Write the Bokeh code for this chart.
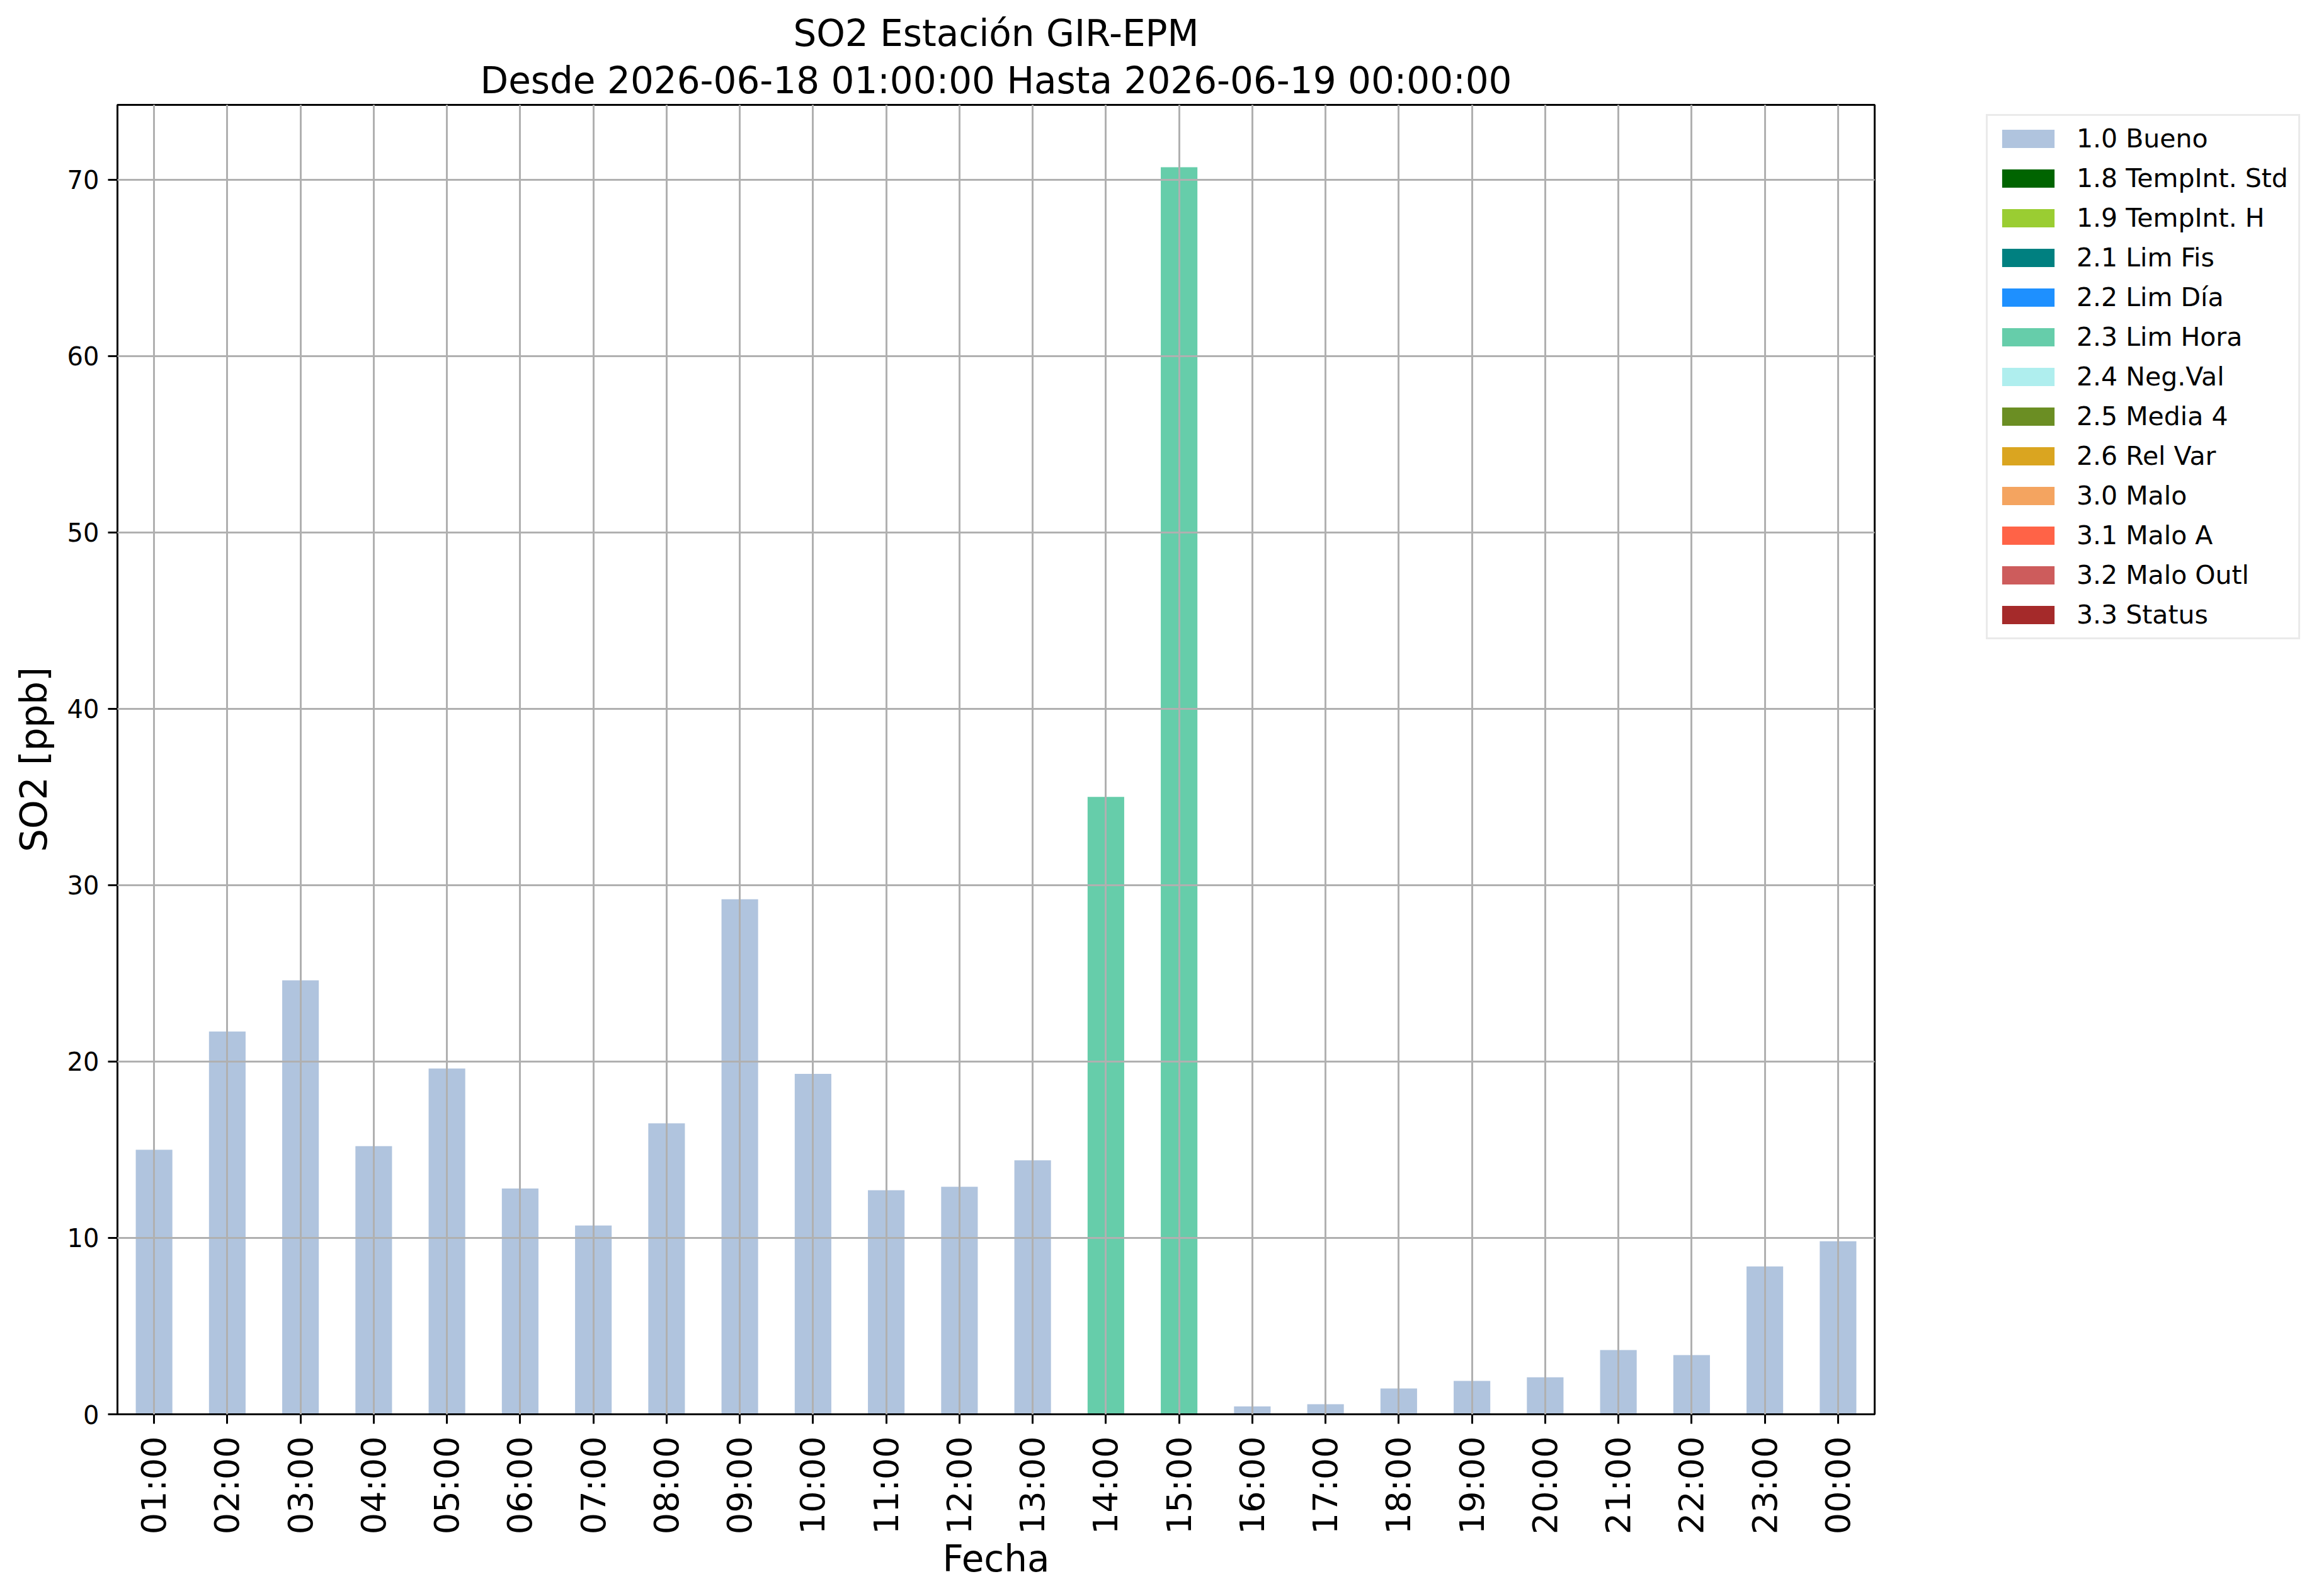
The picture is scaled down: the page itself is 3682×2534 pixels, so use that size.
import math
from bokeh.plotting import figure
from bokeh.models import (ColumnDataSource, FactorRange, Range1d, Title, Legend,
                          LegendItem, SingleIntervalTicker)
from bokeh.embed import file_html
from bokeh.resources import INLINE

# ---------------- data ----------------
hours = ["01:00", "02:00", "03:00", "04:00", "05:00", "06:00", "07:00", "08:00",
         "09:00", "10:00", "11:00", "12:00", "13:00", "14:00", "15:00", "16:00",
         "17:00", "18:00", "19:00", "20:00", "21:00", "22:00", "23:00", "00:00"]
so2_ppb = [15.0, 21.7, 24.6, 15.2, 19.6, 12.8, 10.7, 16.5,
           29.2, 19.3, 12.7, 12.9, 14.4, 35.0, 70.7, 0.45,
           0.57, 1.46, 1.89, 2.10, 3.64, 3.36, 8.38, 9.81]
flag_codes = ["1.0"] * 13 + ["2.3", "2.3"] + ["1.0"] * 9

category_codes = ["1.0", "1.8", "1.9", "2.1", "2.2", "2.3", "2.4", "2.5", "2.6",
                  "3.0", "3.1", "3.2", "3.3"]
category_names = ["Bueno", "TempInt. Std", "TempInt. H", "Lim Fis", "Lim Día",
                  "Lim Hora", "Neg.Val", "Media 4", "Rel Var", "Malo", "Malo A",
                  "Malo Outl", "Status"]
category_colors = ["#B0C4DE", "#006400", "#9ACD32", "#008080", "#1E90FF",
                   "#66CDAA", "#AFEEEE", "#6B8E23", "#DAA520", "#F4A460",
                   "#FF6347", "#CD5C5C", "#A52A2A"]

title_line1 = "SO2 Estación GIR-EPM"
title_line2 = "Desde 2026-06-18 01:00:00 Hasta 2026-06-19 00:00:00"
y_label = "SO2 [ppb]"
x_label = "Fecha"
y_tick_step = 10

FONT = "DejaVu Sans"

# ---------------- figure ----------------
p = figure(x_range=FactorRange(*hours),
           y_range=Range1d(0, max(so2_ppb) * 1.05),
           frame_width=2790, frame_height=2079,
           min_border_left=186, min_border_right=690,
           min_border_top=166, min_border_bottom=273,
           output_backend="svg", toolbar_location=None, title=None,
           background_fill_color="white", border_fill_color="white")

items = []
for code, name, color in zip(category_codes, category_names, category_colors):
    # one column per flag category (value where the flag matches, 0 elsewhere)
    tops = [v if f == code else 0.0 for v, f in zip(so2_ppb, flag_codes)]
    src = ColumnDataSource(dict(x=hours, top=tops))
    r = p.vbar(x="x", top="top", bottom=0, width=0.5, source=src,
               fill_color=color, line_color=None)
    items.append(LegendItem(label=f"{code} {name}", renderers=[r]))

# titles
t2 = Title(text=title_line2, align="center", text_font=FONT,
           text_font_size="58px", text_font_style="normal",
           text_color="black", standoff=10)
p.add_layout(t2, "above")
t1 = Title(text=title_line1, align="center", text_font=FONT,
           text_font_size="58px", text_font_style="normal",
           text_color="black", standoff=0)
p.add_layout(t1, "above")

# grid (drawn over bars like the reference)
for g in (p.xgrid, p.ygrid):
    g.grid_line_color = "#b0b0b0"
    g.grid_line_width = 3
    g.level = "annotation"

p.outline_line_color = "black"
p.outline_line_width = 3
p.outline_line_alpha = 1.0

p.yaxis.ticker = SingleIntervalTicker(interval=y_tick_step, num_minor_ticks=0)

for ax in (p.xaxis[0], p.yaxis[0]):
    ax.axis_line_color = "black"
    ax.axis_line_width = 3
    ax.major_tick_line_color = "black"
    ax.major_tick_line_width = 3
    ax.major_tick_out = 15
    ax.major_tick_in = 0
    ax.minor_tick_line_color = None
    ax.major_label_text_font = FONT
    ax.major_label_text_color = "black"
    ax.axis_label_text_font = FONT
    ax.axis_label_text_font_size = "58px"
    ax.axis_label_text_font_style = "normal"
    ax.axis_label_text_color = "black"

p.xaxis.axis_label = x_label
p.yaxis.axis_label = y_label
p.xaxis.major_label_orientation = math.pi / 2
p.xaxis.major_label_text_font_size = "54px"
p.xaxis.major_label_standoff = 20
p.xaxis.axis_label_standoff = 2
p.yaxis.major_label_text_font_size = "40px"
p.yaxis.major_label_standoff = 14
p.yaxis.axis_label_standoff = 16

# legend (outside, right of the frame)
legend_height = 2 * 12 + 13 * 48 + 12 * 15
legend = Legend(items=items, location=(177, 2058 - legend_height),
                label_text_font=FONT, label_text_font_size="41px",
                label_text_color="black",
                glyph_width=104, glyph_height=36, label_height=48,
                label_width=340, label_standoff=25, spacing=15, padding=12,
                margin=0,
                border_line_color="#d6d6d6", border_line_width=3,
                background_fill_color="white", background_fill_alpha=1.0)
p.add_layout(legend, "right")

open("out.html", "w").write(file_html(p, INLINE))
